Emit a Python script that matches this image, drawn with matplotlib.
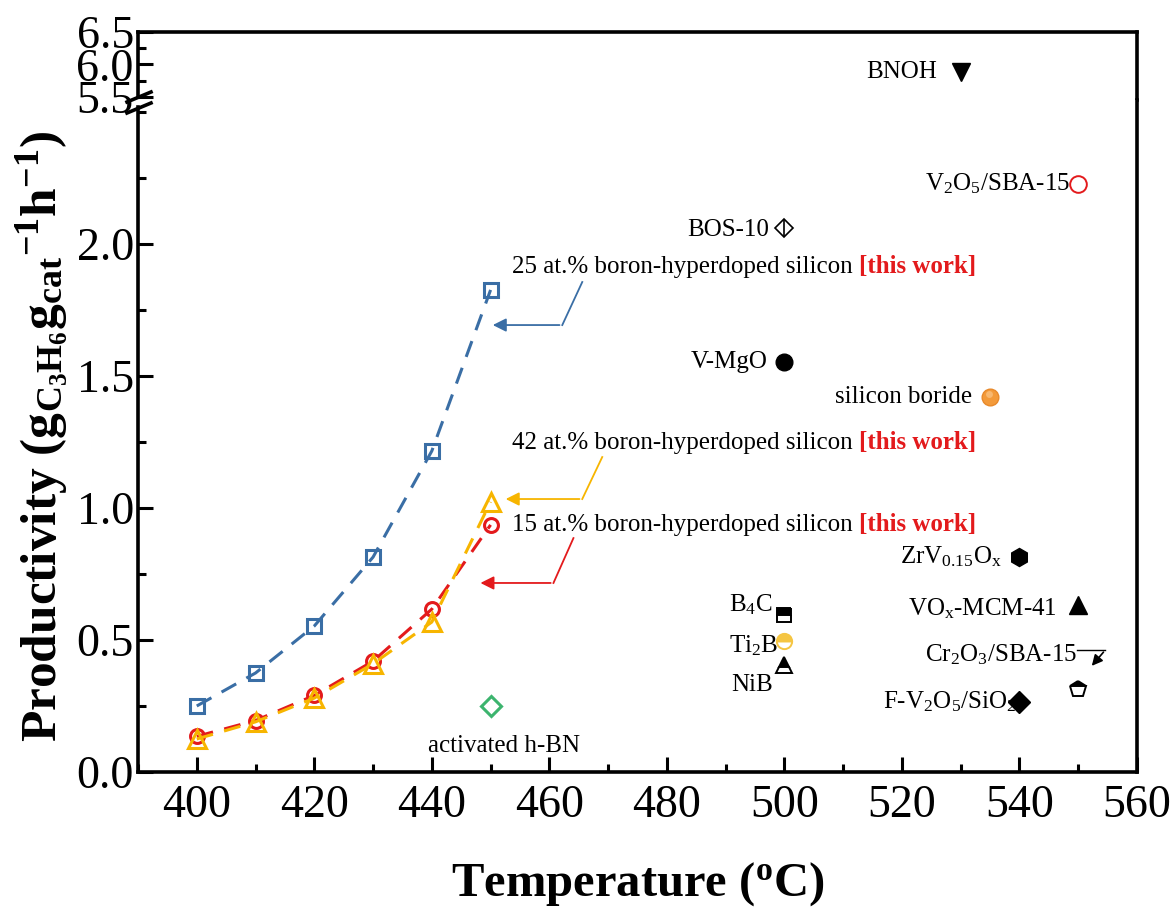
import matplotlib
matplotlib.use("Agg")
import matplotlib.pyplot as plt
from matplotlib.lines import Line2D
from matplotlib.ticker import MultipleLocator

plt.rcParams['font.family'] = ['Liberation Serif', 'DejaVu Serif']
plt.rcParams['mathtext.fontset'] = 'custom'
plt.rcParams['mathtext.rm'] = 'Liberation Serif'
plt.rcParams['mathtext.it'] = 'Liberation Serif:italic'
plt.rcParams['mathtext.bf'] = 'Liberation Serif:bold'

# this work: productivity vs temperature
temp = [400, 410, 420, 430, 440, 450]
prod_25 = [0.25, 0.375, 0.553, 0.814, 1.216, 1.826]
prod_15 = [0.135, 0.195, 0.29, 0.42, 0.617, 0.936]
prod_42 = [0.125, 0.19, 0.28, 0.41, 0.568, 1.023]

# literature catalysts (lower panel)
ref_names = ['BOS-10', 'V$_2$O$_5$/SBA-15', 'V-MgO', 'silicon boride',
             'ZrV$_{0.15}$O$_\\mathrm{x}$', 'VO$_\\mathrm{x}$-MCM-41', '',
             'F-V$_2$O$_5$/SiO$_2$', 'B$_4$C', 'Ti$_2$B', 'NiB', 'activated h-BN']
ref_temp = [500, 550, 500, 535, 540, 550, 550, 540, 500, 500, 500, 450]
ref_prod = [2.06, 2.227, 1.553, 1.42, 0.814, 0.633, 0.314, 0.265, 0.595, 0.496, 0.405, 0.25]

# BNOH sits above the axis break
bnoh_temp = 530
bnoh_prod = 5.88

# Cr2O3/SBA-15 (pointer)
cr_temp = 552
cr_prod = 0.394

blue = '#3a6ea5'
red = '#e31a1c'
orange = '#f7b500'
green = '#3cb46e'

fig = plt.figure(figsize=(11.72, 9.08), dpi=100)
W, H = 1172, 908
ax_top = fig.add_axes([138 / W, (H - 100) / H, 999 / W, 68 / H])
ax = fig.add_axes([138 / W, (H - 772) / H, 999 / W, 672 / H], sharex=ax_top)

for a in (ax, ax_top):
    for s in a.spines.values():
        s.set_linewidth(2.6)
    a.tick_params(which='both', direction='in', width=2.2, labelsize=33,
                  right=False, top=False)
    a.tick_params(which='major', length=11)
    a.tick_params(which='minor', length=6)
    a.tick_params(axis='y', pad=3)

ax_top.spines['bottom'].set_visible(False)
ax.spines['top'].set_visible(False)
ax_top.tick_params(axis='x', which='both', bottom=False, labelbottom=False)

ax.set_xlim(390, 560)
ax.set_ylim(0, 672 / 264)
ax_top.set_ylim(5.45, 6.5)
ax.spines['left'].set_bounds(0, 2.52)
ax_top.spines['left'].set_bounds(5.5, 6.5)

ax.xaxis.set_major_locator(MultipleLocator(20))
ax.xaxis.set_minor_locator(MultipleLocator(10))
ax.yaxis.set_major_locator(MultipleLocator(0.5))
ax.yaxis.set_minor_locator(MultipleLocator(0.25))
ax.set_yticks([0, 0.5, 1.0, 1.5, 2.0])
ax_top.set_yticks([5.5, 6.0, 6.5])
ax_top.yaxis.set_minor_locator(MultipleLocator(0.25))
ax.tick_params(axis='x', pad=9)

# break marks on the left spine
for yb in (97, 108):
    fig.add_artist(Line2D([127 / W, 151 / W], [(H - yb - 5) / H, (H - yb + 5) / H],
                          color='k', lw=2.6, transform=fig.transFigure))

# this work series
ax.plot(temp, prod_25, color=blue, ls=(0, (5.5, 3.8)), lw=2.2, marker='s', ms=10,
        mfc='none', mew=2.2)
ax.plot(temp, prod_15, color=red, ls=(0, (5.5, 3.8)), lw=2.2, marker='o', ms=10,
        mfc='none', mew=2.2)
ax.plot(temp, prod_42, color=orange, ls=(0, (5.5, 3.8)), lw=2.2, marker='^', ms=13,
        mfc='none', mew=2.2)

# labels with arrows for this work
labels_this = ['25 at.% boron-hyperdoped silicon ', '42 at.% boron-hyperdoped silicon ',
               '15 at.% boron-hyperdoped silicon ']
label_y = [1.913, 1.246, 0.936]
arrow_tip = [(449.9, 1.693), (452.1, 1.034), (447.8, 0.716)]
arrow_bend = [(462.2, 1.693), (465.6, 1.034), (460.7, 0.716)]
arrow_start = [(465.6, 1.856), (469.0, 1.193), (464.1, 0.886)]
for txt, ly, tip, bend, st, c in zip(labels_this, label_y, arrow_tip, arrow_bend,
                                      arrow_start, [blue, orange, red]):
    t = ax.text(453.6, ly, txt, fontsize=18, va='center', ha='left')
    ax.annotate('[this work]', xy=(1, 0), xycoords=t, va='bottom', ha='left',
                fontsize=18, color=red, fontweight='bold')
    ax.plot([st[0], bend[0]], [st[1], bend[1]], color=c, lw=1.3)
    ax.annotate('', xy=tip, xytext=bend,
                arrowprops=dict(arrowstyle='-|>', color=c, lw=1.3, mutation_scale=20))

# literature markers
k = 'black'
ax.plot(ref_temp[0], ref_prod[0], marker='D', ms=9, mfc='white', mec=k, mew=1.2)
ax.plot(ref_temp[0], ref_prod[0], marker='|', ms=12, mec=k, mew=1.2)
ax.plot(ref_temp[1], ref_prod[1], marker='o', ms=12, mfc='none', mec=red, mew=1.4)
ax.plot(ref_temp[2], ref_prod[2], marker='o', ms=12, color=k)
ax.plot(ref_temp[3], ref_prod[3], marker='o', ms=12, color='#f39a3a', mec='#e8892a')
ax.plot(ref_temp[3] - 0.25, ref_prod[3] + 0.01, marker='o', ms=5, color='#f8b870', mec='none')
ax.plot(ref_temp[4], ref_prod[4], marker='h', ms=13, color=k)
ax.plot(ref_temp[5], ref_prod[5], marker='^', ms=13, color=k)
ax.plot(ref_temp[6], ref_prod[6], marker='p', ms=12, fillstyle='top', mfc=k,
        mfcalt='white', mec=k, mew=1.4)
ax.plot(ref_temp[7], ref_prod[7], marker='D', ms=11, color=k)
ax.plot(ref_temp[8], ref_prod[8], marker='s', ms=10, fillstyle='top', mfc=k,
        mfcalt='white', mec=k, mew=1.4)
ax.plot(ref_temp[9], ref_prod[9], marker='o', ms=11, fillstyle='top', mfc='#f5c542',
        mfcalt='white', mec='#f5c542', mew=1.4)
ax.plot(ref_temp[10], ref_prod[10], marker='^', ms=12, fillstyle='top', mfc=k,
        mfcalt='white', mec=k, mew=1.4)
ax.plot(ref_temp[11], ref_prod[11], marker='D', ms=10, mfc='none', mec=green, mew=2.2)

# literature labels
lab_x = [497.4, 548.6, 497.2, 531.9, 537.0, 546.4, None, 539.4, 498.0, 498.9, 498.0]
lab_y = [2.053, 2.227, 1.553, 1.42, 0.814, 0.62, None, 0.265, 0.633, 0.48, 0.33]
for name, lx, ly in zip(ref_names[:11], lab_x, lab_y):
    if lx is None:
        continue
    ax.text(lx, ly, name, fontsize=18, ha='right', va='center')
ax.text(452.3, 0.10, ref_names[11], fontsize=18, ha='center', va='center')

ax.text(549.8, 0.443, 'Cr$_2$O$_3$/SBA-15', fontsize=18, ha='right', va='center')
ax.plot([549.8, 554.6], [0.462, 0.462], color=k, lw=1.0)
ax.annotate('', xy=(cr_temp, cr_prod), xytext=(554.6, 0.462),
            arrowprops=dict(arrowstyle='-|>', color=k, lw=1.2, mutation_scale=16))

# BNOH in top panel
ax_top.plot(bnoh_temp, bnoh_prod, marker='v', ms=13, color=k)
ax_top.text(526.0, bnoh_prod, 'BNOH', fontsize=18, ha='right', va='center')

ax.set_xlabel(r'Temperature ($^{\mathbf{o}}$C)', fontsize=35, fontweight='bold', labelpad=24)
ax.set_ylabel(r'Productivity ($\mathbf{g_{C_3H_6}g_{cat}{}^{-1}h^{-1}}$)', fontsize=37,
              fontweight='bold', labelpad=4)

fig.savefig('out.png', dpi=100)
